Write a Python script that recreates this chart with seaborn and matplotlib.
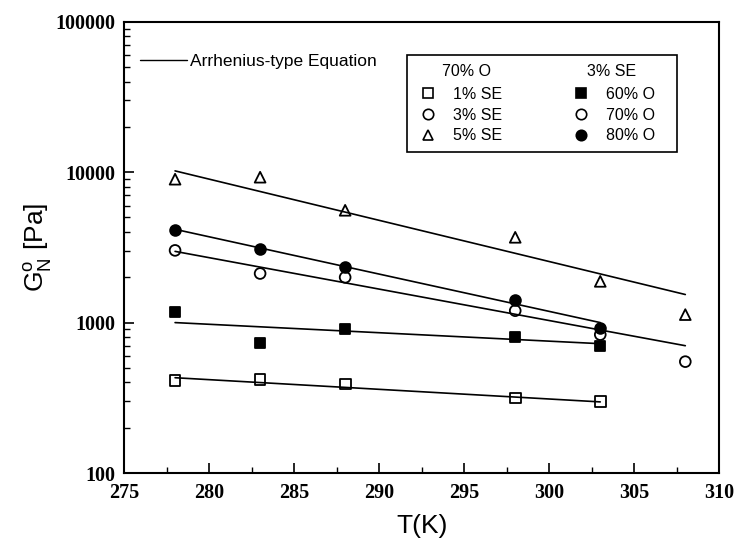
import matplotlib
matplotlib.use("Agg")
import matplotlib.pyplot as plt
from matplotlib.lines import Line2D
from matplotlib.patches import Rectangle
from matplotlib.ticker import LogLocator, MultipleLocator, NullFormatter
import seaborn as sns
import pandas as pd

# measured points, G°N [Pa] vs T [K]
temp = [278, 283, 288, 298, 303]
temp_long = [278, 283, 288, 298, 303, 308]

se1_open_sq = [410, 420, 390, 315, 300]
o60_fill_sq = [1170, 735, 912, 807, 702]
se3_open_circ = [3020, 2120, 2000, 1200, 832, 550]
o80_fill_circ = [4100, 3070, 2360, 1420, 926]
se5_triangle = [8980, 9260, 5580, 3690, 1880, 1130]

# Arrhenius fit lines, (start T, end T) and (start G, end G)
fit_t = {"se1": [278, 303], "o60": [278, 303], "se3": [278, 308],
         "o80": [278, 303], "se5": [278, 308]}
fit_g = {"se1": [430, 297], "o60": [1000, 724], "se3": [2975, 702],
         "o80": [4170, 1000], "se5": [10200, 1537]}

sns.set_style("ticks")
plt.rcParams["font.family"] = ["Liberation Sans", "DejaVu Sans"]
plt.rcParams["text.color"] = "black"
plt.rcParams["axes.labelcolor"] = "black"
plt.rcParams["xtick.color"] = "black"
plt.rcParams["ytick.color"] = "black"

fig = plt.figure(figsize=(7.34, 5.44), dpi=100)
ax = fig.add_axes([0.169, 0.1305, 0.811, 0.8295])

# fit lines
for key in fit_t:
    df = pd.DataFrame({"T": fit_t[key], "G": fit_g[key]})
    sns.lineplot(data=df, x="T", y="G", color="black", lw=1.2, ax=ax)

series = [
    (temp, se1_open_sq, "s", "none"),
    (temp, o60_fill_sq, "s", "black"),
    (temp_long, se3_open_circ, "o", "none"),
    (temp, o80_fill_circ, "o", "black"),
    (temp_long, se5_triangle, "^", "none"),
]
for x, y, m, fc in series:
    ax.scatter(x, y, marker=m, s=60, facecolors=fc, edgecolors="black",
               linewidths=1.3, zorder=3)

ax.set_yscale("log")
ax.set_xlim(275, 310)
ax.set_ylim(100, 100000)
ax.xaxis.set_major_locator(MultipleLocator(5))
ax.xaxis.set_minor_locator(MultipleLocator(2.5))
ax.yaxis.set_major_locator(LogLocator(base=10))
ax.yaxis.set_minor_locator(LogLocator(base=10, subs=range(2, 10)))
ax.yaxis.set_minor_formatter(NullFormatter())
ax.set_yticks([100, 1000, 10000, 100000])
ax.set_yticklabels(["100", "1000", "10000", "100000"])
ax.tick_params(which="both", direction="in", top=False, right=False)
ax.tick_params(which="major", length=7, width=1.2)
ax.tick_params(which="minor", length=4, width=1.0)
ax.tick_params(axis="x", which="major", pad=7)
ax.tick_params(axis="y", which="major", pad=6)
for lbl in ax.get_xticklabels() + ax.get_yticklabels():
    lbl.set_fontfamily("Liberation Serif")
    lbl.set_fontweight("bold")
    lbl.set_fontsize(14.5)
for sp in ax.spines.values():
    sp.set_linewidth(1.5)
    sp.set_color("black")

ax.set_xlabel("T(K)", fontsize=19, labelpad=8)
ax.set_ylabel(r"G$^\mathregular{o}_\mathregular{N}$ [Pa]", fontsize=19, labelpad=1)

# legend: fit line
leg1 = ax.legend(handles=[Line2D([], [], color="black", lw=1.0)],
                 labels=["Arrhenius-type Equation"], loc="center left",
                 bbox_to_anchor=(0.027, 0.912), frameon=False, fontsize=12.5,
                 handlelength=2.7, handletextpad=0.2, borderpad=0.0,
                 borderaxespad=0.0)
ax.add_artist(leg1)

# legend: symbols, two columns with header rows, frame drawn separately
blank = Line2D([], [], linestyle="none")
h = lambda m, fc: Line2D([], [], marker=m, linestyle="none", markersize=7.5,
                         markerfacecolor=fc, markeredgecolor="black", markeredgewidth=1.2)
handles = [blank, h("s", "none"), h("o", "none"), h("^", "none"),
           blank, h("s", "black"), h("o", "none"), h("o", "black")]
labels = [" ", "1% SE", "3% SE", "5% SE",
          " ", "60% O", "70% O", "80% O"]
leg2 = ax.legend(handles=handles, labels=labels, ncol=2, loc="upper left",
                 bbox_to_anchor=(0.4879, 0.9018), fontsize=11.5, frameon=False,
                 columnspacing=4.1, handlelength=1.7, handletextpad=0.7,
                 labelspacing=0.36, borderpad=0.0, borderaxespad=0.0)
ax.add_patch(Rectangle((0.4756, 0.7118), 0.4538, 0.2151, transform=ax.transAxes,
                       fill=False, edgecolor="black", lw=1.2, zorder=5))
ax.text(0.534, 0.889, "70% O", transform=ax.transAxes, fontsize=11.5,
        ha="left", va="center", zorder=6)
ax.text(0.778, 0.889, "3% SE", transform=ax.transAxes, fontsize=11.5,
        ha="left", va="center", zorder=6)

fig.savefig("out.png", dpi=100)
